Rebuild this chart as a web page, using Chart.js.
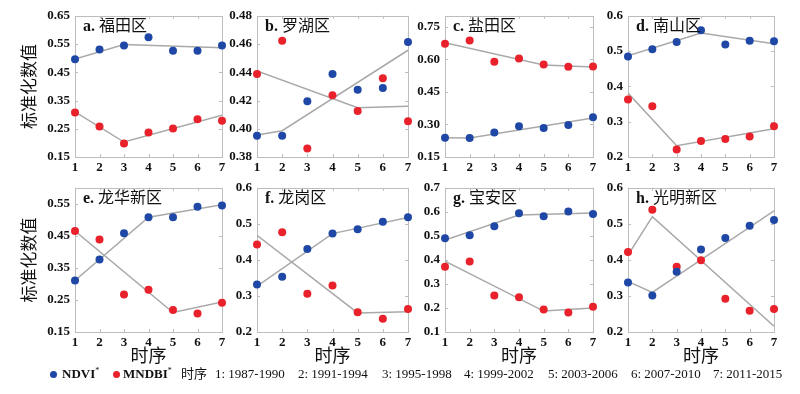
<!DOCTYPE html>
<html><head><meta charset="utf-8">
<script src="https://cdn.jsdelivr.net/npm/chart.js@4"></script>
<style>
html,body{margin:0;padding:0;background:#fff;}
#wrap{position:relative;width:800px;height:394px;overflow:hidden;}
.cv{position:absolute;}
.plab{position:absolute;font-size:16px;line-height:20px;white-space:nowrap;color:#111;}
.plab b{font-family:"Liberation Serif",serif;font-weight:bold;}
.plab span{font-family:"Noto Sans CJK SC",sans-serif;}
#legend{position:absolute;left:0;top:364px;height:20px;width:800px;font-family:"Liberation Serif",serif;font-size:13px;color:#111;}
#legend div{position:absolute;top:0;height:20px;line-height:20px;white-space:nowrap;}
#legend div.dot{top:7px;width:7px;height:7px;border-radius:50%;}
#legend div.cjk{font-family:"Noto Sans CJK SC",sans-serif;line-height:20px;top:-1px;}
</style></head>
<body><div id="wrap"></div>
<script>
// ---- data ----
const periods = [1, 2, 3, 4, 5, 6, 7];
const periodLabels = ["1: 1987-1990","2: 1991-1994","3: 1995-1998","4: 1999-2002","5: 2003-2006","6: 2007-2010","7: 2011-2015"];
const districts = ["a. 福田区","b. 罗湖区","c. 盐田区","d. 南山区","e. 龙华新区","f. 龙岗区","g. 宝安区","h. 光明新区"];

const ndvi_a = [0.496,0.531,0.545,0.574,0.526,0.526,0.545];
const mndbi_a = [0.308,0.258,0.198,0.237,0.251,0.284,0.278];
const ndviFitX_a = [1,3,7], ndviFitY_a = [0.497,0.548,0.537];
const mndbiFitX_a = [1,3,7], mndbiFitY_a = [0.310,0.203,0.298];

const ndvi_b = [0.395,0.395,0.4195,0.4388,0.4277,0.4288,0.4614];
const mndbi_b = [0.4388,0.4623,0.386,0.4237,0.4126,0.4358,0.4053];
const ndviFitX_b = [1,2,7], ndviFitY_b = [0.3956,0.3986,0.4556];
const mndbiFitX_b = [1,5,7], mndbiFitY_b = [0.4409,0.4149,0.4160];

const ndvi_c = [0.239,0.238,0.263,0.291,0.284,0.297,0.333];
const mndbi_c = [0.671,0.686,0.589,0.603,0.576,0.565,0.567];
const ndviFitX_c = [1,2,7], ndviFitY_c = [0.239,0.238,0.330];
const mndbiFitX_c = [1,5,7], mndbiFitY_c = [0.676,0.574,0.564];

const ndvi_d = [0.485,0.505,0.526,0.559,0.519,0.529,0.528];
const mndbi_d = [0.363,0.344,0.221,0.245,0.251,0.258,0.287];
const ndviFitX_d = [1,4,7], ndviFitY_d = [0.487,0.551,0.521];
const mndbiFitX_d = [1,3,7], mndbiFitY_d = [0.381,0.232,0.280];

const ndvi_e = [0.311,0.376,0.458,0.508,0.508,0.541,0.545];
const mndbi_e = [0.465,0.439,0.267,0.282,0.219,0.208,0.241];
const ndviFitX_e = [1,4,7], ndviFitY_e = [0.311,0.508,0.547];
const mndbiFitX_e = [1,5,7], mndbiFitY_e = [0.465,0.211,0.244];

const ndvi_f = [0.332,0.353,0.430,0.473,0.485,0.506,0.518];
const mndbi_f = [0.443,0.477,0.306,0.329,0.255,0.237,0.264];
const ndviFitX_f = [1,4,7], ndviFitY_f = [0.327,0.473,0.518];
const mndbiFitX_f = [1,5,7], mndbiFitY_f = [0.468,0.253,0.256];

const ndvi_g = [0.490,0.503,0.540,0.594,0.582,0.601,0.591];
const mndbi_g = [0.371,0.393,0.252,0.245,0.194,0.181,0.205];
const ndviFitX_g = [1,4,7], ndviFitY_g = [0.483,0.587,0.595];
const mndbiFitX_g = [1,5,7], mndbiFitY_g = [0.395,0.187,0.200];

const ndvi_h = [0.337,0.301,0.367,0.429,0.461,0.495,0.511];
const mndbi_h = [0.422,0.539,0.381,0.399,0.292,0.259,0.264];
const ndviFitX_h = [1,2,7], ndviFitY_h = [0.340,0.310,0.536];
const mndbiFitX_h = [1,2,7], mndbiFitY_h = [0.413,0.520,0.216];

const yTicks_a = ["0.15","0.25","0.35","0.45","0.55","0.65"];
const yTicks_b = ["0.38","0.40","0.42","0.44","0.46","0.48"];
const yTicks_c = ["0.15","0.30","0.45","0.60","0.75"];
const yTicks_d = ["0.2","0.3","0.4","0.5","0.6"];
const yTicks_e = ["0.15","0.25","0.35","0.45","0.55"];
const yTicks_f = ["0.2","0.3","0.4","0.5","0.6"];
const yTicks_g = ["0.1","0.2","0.3","0.4","0.5","0.6","0.7"];
const yTicks_h = ["0.2","0.3","0.4","0.5","0.6"];
const yRange = {a:[0.15,0.65],b:[0.38,0.48],c:[0.15,0.80],d:[0.2,0.6],e:[0.15,0.60],f:[0.2,0.6],g:[0.1,0.7],h:[0.2,0.6]};

// ---- layout ----
const BLUE = '#1f48a6', RED = '#e8212b', GRAY = '#a9a9a9';
const cols = [[75,222],[257,408],[445,593],[628,774]];
const rows = [[13,157],[185,332]];
const wrap = document.getElementById('wrap');

const framePlugin = {
  id:'frame',
  beforeDatasetsDraw(chart){
    const {ctx, chartArea:a, scales} = chart;
    ctx.save();
    ctx.strokeStyle = '#bdbdbd'; ctx.lineWidth = 1;
    ctx.strokeRect(Math.round(a.left)+0.5, Math.round(a.top)+0.5, Math.round(a.right-a.left), Math.round(a.bottom-a.top));
    ctx.beginPath();
    scales.x.ticks.forEach(t=>{const px=Math.round(scales.x.getPixelForValue(t.value))+0.5;
      ctx.moveTo(px,a.bottom); ctx.lineTo(px,a.bottom-3); ctx.moveTo(px,a.top); ctx.lineTo(px,a.top+3);});
    scales.y.ticks.forEach(t=>{const py=Math.round(scales.y.getPixelForValue(t.value))+0.5;
      ctx.moveTo(a.left,py); ctx.lineTo(a.left+3,py); ctx.moveTo(a.right,py); ctx.lineTo(a.right-3,py);});
    ctx.stroke();
    ctx.restore();
  }
};

function pts(xs, ys){ return xs.map((x,i)=>({x:x, y:ys[i]})); }

const panels = [
  ['a',ndvi_a,mndbi_a,ndviFitX_a,ndviFitY_a,mndbiFitX_a,mndbiFitY_a,yTicks_a],
  ['b',ndvi_b,mndbi_b,ndviFitX_b,ndviFitY_b,mndbiFitX_b,mndbiFitY_b,yTicks_b],
  ['c',ndvi_c,mndbi_c,ndviFitX_c,ndviFitY_c,mndbiFitX_c,mndbiFitY_c,yTicks_c],
  ['d',ndvi_d,mndbi_d,ndviFitX_d,ndviFitY_d,mndbiFitX_d,mndbiFitY_d,yTicks_d],
  ['e',ndvi_e,mndbi_e,ndviFitX_e,ndviFitY_e,mndbiFitX_e,mndbiFitY_e,yTicks_e],
  ['f',ndvi_f,mndbi_f,ndviFitX_f,ndviFitY_f,mndbiFitX_f,mndbiFitY_f,yTicks_f],
  ['g',ndvi_g,mndbi_g,ndviFitX_g,ndviFitY_g,mndbiFitX_g,mndbiFitY_g,yTicks_g],
  ['h',ndvi_h,mndbi_h,ndviFitX_h,ndviFitY_h,mndbiFitX_h,mndbiFitY_h,yTicks_h]
];

const tickFont = {family:'"Liberation Serif", serif', size:13, weight:'bold'};

panels.forEach((p, idx)=>{
  const [key, nd, mn, nfx, nfy, mfx, mfy, yt] = p;
  const r = Math.floor(idx/4), c = idx%4;
  const [L,R] = cols[c], [T,B] = rows[r];
  const yw = c===0 ? 75 : 45;
  const xh = r===0 ? 22 : 34;
  const padTop = 10, padRight = 10;
  const W = yw + (R-L) + padRight, H = padTop + (B-T) + xh;
  const box = document.createElement('div');
  box.className='cv';
  box.style.left=(L-yw)+'px'; box.style.top=(T-padTop)+'px';
  box.style.width=W+'px'; box.style.height=H+'px';
  const cv = document.createElement('canvas');
  box.appendChild(cv); wrap.appendChild(box);

  const lab = document.createElement('div');
  lab.className='plab';
  const name = districts[idx];
  lab.innerHTML = '<b>'+name.slice(0,2)+'</b> <span>'+name.slice(3)+'</span>';
  lab.style.left=(L+8)+'px'; lab.style.top=(T+1)+'px';
  wrap.appendChild(lab);

  const tickVals = yt.map(Number);
  new Chart(cv, {
    data:{datasets:[
      {type:'scatter', label:'NDVI*', data:pts(periods, nd), backgroundColor:BLUE, borderColor:BLUE, pointRadius:4, pointBorderWidth:0, order:1, clip:false},
      {type:'scatter', label:'MNDBI*', data:pts(periods, mn), backgroundColor:RED, borderColor:RED, pointRadius:4, pointBorderWidth:0, order:1, clip:false},
      {type:'line', label:'fitN', data:pts(nfx, nfy), borderColor:GRAY, borderWidth:1.5, pointRadius:0, fill:false, tension:0, order:2},
      {type:'line', label:'fitM', data:pts(mfx, mfy), borderColor:GRAY, borderWidth:1.5, pointRadius:0, fill:false, tension:0, order:2}
    ]},
    options:{
      responsive:true, maintainAspectRatio:false, animation:false,
      layout:{padding:{top:padTop, right:padRight, left:0, bottom:0}},
      plugins:{legend:{display:false}, tooltip:{enabled:false}},
      scales:{
        x:{type:'linear', min:1, max:7, offset:false,
           grid:{display:false, drawTicks:false}, border:{display:false},
           afterBuildTicks(s){ s.ticks = periods.map(v=>({value:v})); },
           ticks:{font:tickFont, color:'#111', padding:3, maxRotation:0, callback:v=>String(v)},
           title:{display:r===1, text:'时序', font:{family:'"Noto Sans CJK SC", sans-serif', size:18}, color:'#111', padding:{top:0,bottom:0}},
           afterFit(s){ s.height = xh; }},
        y:{type:'linear', min:yRange[key][0], max:yRange[key][1],
           grid:{display:false, drawTicks:false}, border:{display:false},
           afterBuildTicks(s){ s.ticks = tickVals.map(v=>({value:v})); },
           ticks:{font:tickFont, color:'#111', padding:5, callback:(v,i)=>yt[i]},
           title:{display:c===0, text:'标准化数值', font:{family:'"Noto Sans CJK SC", sans-serif', size:17}, color:'#111', padding:{top:18,bottom:0}},
           afterFit(s){ s.width = yw; }}
      }
    },
    plugins:[framePlugin]
  });
});

// legend row
const lg = document.createElement('div'); lg.id='legend'; wrap.appendChild(lg);
function addL(x, html, cls){ const d=document.createElement('div'); d.style.left=x+'px'; d.innerHTML=html; if(cls) d.className=cls; lg.appendChild(d); return d; }
addL(50, '', 'dot').style.background = BLUE;
addL(62, '<b>NDVI</b><span style="font-size:8px;position:relative;top:-5px">*</span>');
addL(113, '', 'dot').style.background = RED;
addL(123, '<b>MNDBI</b><span style="font-size:8px;position:relative;top:-5px">*</span>');
addL(181, '时序', 'cjk');
const lx = [215,298,382,464,548,631,713];
periodLabels.forEach((t,i)=>addL(lx[i], t));
</script></body></html>
